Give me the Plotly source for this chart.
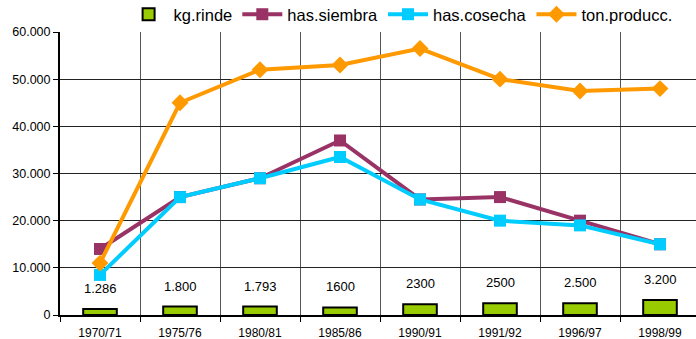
import plotly.graph_objects as go

campanias = ["1970/71", "1975/76", "1980/81", "1985/86", "1990/91", "1991/92", "1996/97", "1998/99"]
kg_rinde = [1286, 1800, 1793, 1600, 2300, 2500, 2500, 3200]
kg_rinde_txt = ["1.286", "1.800", "1.793", "1600", "2300", "2500", "2.500", "3.200"]
has_siembra = [14000, 25000, 29000, 37000, 24500, 25000, 20000, 15000]
has_cosecha = [8500, 25000, 29000, 33500, 24500, 20000, 19000, 15000]
ton_producc = [11000, 45000, 52000, 53000, 56500, 50000, 47500, 48000]

pos = list(range(len(campanias)))
FONT = "Liberation Sans, Arial, sans-serif"

fig = go.Figure()
fig.add_trace(go.Bar(
    x=pos, y=kg_rinde, name="kg.rinde", width=0.42,
    marker=dict(color="#99CC00", line=dict(color="#000000", width=2)),
))
fig.add_trace(go.Scatter(
    x=pos, y=has_siembra, name="has.siembra", mode="lines+markers",
    line=dict(color="#993366", width=4),
    marker=dict(symbol="square", size=12, color="#993366"),
))
fig.add_trace(go.Scatter(
    x=pos, y=has_cosecha, name="has.cosecha", mode="lines+markers",
    line=dict(color="#00CCFF", width=4),
    marker=dict(symbol="square", size=12, color="#00CCFF"),
))
fig.add_trace(go.Scatter(
    x=pos, y=ton_producc, name="ton.producc.", mode="lines+markers",
    line=dict(color="#FF9900", width=4),
    marker=dict(symbol="diamond", size=13, color="#FF9900"),
))

# value labels above each yield bar
for xi, v, t in zip(pos, kg_rinde, kg_rinde_txt):
    fig.add_annotation(x=xi, y=v, text=t, showarrow=False, yanchor="bottom",
                       yshift=11, font=dict(family=FONT, size=13, color="#000000"))

fig.update_layout(
    width=696, height=339,
    margin=dict(l=60, r=0, t=32, b=24, autoexpand=False),
    paper_bgcolor="white", plot_bgcolor="white",
    separators=",.",
    font=dict(family=FONT, size=12, color="#000000"),
    showlegend=True,
    legend=dict(orientation="h", x=0.1, y=1.0, xanchor="left", yanchor="bottom",
                font=dict(family=FONT, size=16.5, color="#000000"),
                itemwidth=40, tracegroupgap=0, bgcolor="rgba(0,0,0,0)"),
    bargap=0.5,
)
fig.update_xaxes(
    range=[-0.5, 7.45], tickmode="array", tickvals=pos, ticktext=campanias,
    showgrid=False, ticks="", zeroline=False,
    showline=True, linecolor="#000000", linewidth=2,
    tickfont=dict(family=FONT, size=12), ticklabelstandoff=6,
    minor=dict(tick0=0.5, dtick=1, showgrid=True, gridcolor="#555555", gridwidth=1,
               ticks="outside", ticklen=5, tickcolor="#000000"),
)
fig.update_yaxes(
    range=[0, 60000], tickmode="linear", tick0=0, dtick=10000, tickformat=",d",
    showgrid=True, gridcolor="#222222", gridwidth=1, zeroline=False,
    showline=True, linecolor="#000000", linewidth=2,
    ticks="outside", ticklen=5, tickcolor="#000000",
    tickfont=dict(family=FONT, size=12.5),
)

fig.write_html("out.html")
